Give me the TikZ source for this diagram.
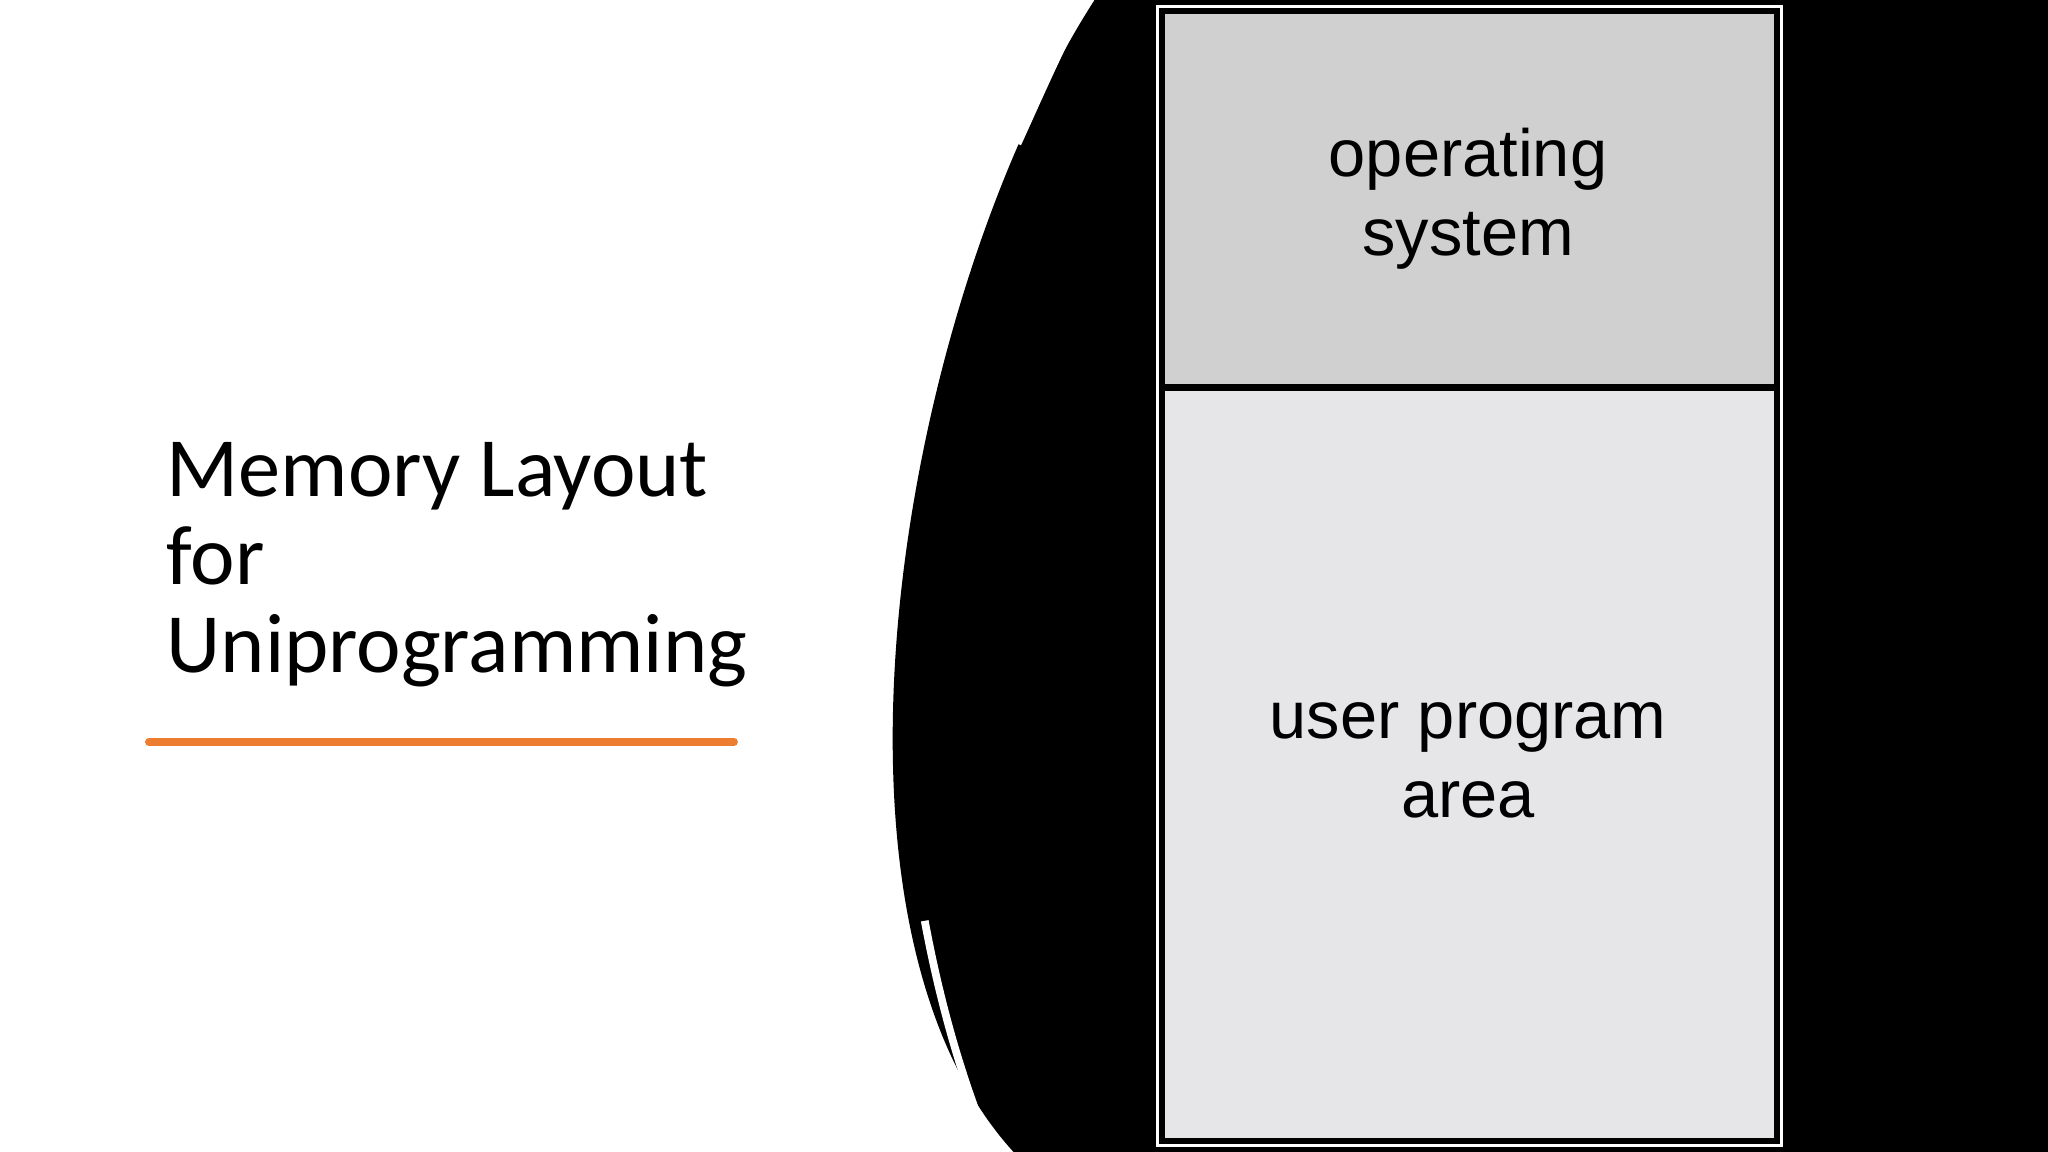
\documentclass[tikz,border=0pt]{standalone}
\usepackage{fontspec}
\setmainfont{Carlito}
\newfontfamily\boxfont{Liberation Sans}
\usetikzlibrary{positioning}
\definecolor{slideorange}{RGB}{237,125,49}
\definecolor{osgray}{RGB}{208,208,208}
\definecolor{usergray}{RGB}{230,230,232}
\begin{document}
\begin{tikzpicture}[x=0.01306cm, y=-0.01306cm,
        title/.style={anchor=north west, align=left, font=\fontsize{24}{25}\selectfont, inner sep=0pt},
        label/.style={align=center, font=\boxfont\fontsize{19}{22.5}\selectfont},
        white line/.style={white, line width=2.2pt}
    ]
        \useasboundingbox (0,0) rectangle (1568,882);
        \fill[white] (0,0) rectangle (1568,882);

        % Black backdrop with curved edge
        \fill[black] (838,0) .. controls (690,230) and (610,700) .. (776,882)
            -- (1568,882) -- (1568,0) -- cycle;
        \draw[white line] (832,-2) .. controls (810,40) and (795,75) .. (779,110);
        \draw[white line] (708,705) .. controls (722,780) and (740,835) .. (760,884);

        % Memory box
        \fill[white] (885,4) rectangle (1365,878);
        \draw[black, line width=2pt] (890,9) rectangle (1360,873);
        \fill[osgray] (892,11) rectangle (1358,297);
        \fill[usergray] (892,297) rectangle (1358,871);
        \draw[black, line width=2pt] (891,297) -- (1359,297);

        \node[label] (os) at (1124,152) {operating\\system};
        \node[label] (user) at (1124,582) {user program\\area};

        % Title
        \node[title] (heading) at (127,338) {Memory Layout\\for\\Uniprogramming};
        \coordinate (ulstart) at (114,568);
        \coordinate (ulend) at (562,568);
        \draw[slideorange, line width=2.2pt, line cap=round] (ulstart) -- (ulend);
    \end{tikzpicture}
\end{document}
